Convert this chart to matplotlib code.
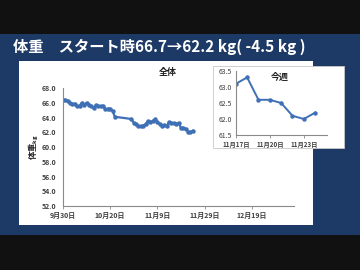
import matplotlib
matplotlib.use("Agg")
import matplotlib.pyplot as plt
import matplotlib.dates as mdates
from matplotlib.patches import Rectangle
from matplotlib.ticker import FuncFormatter, MultipleLocator
import datetime as dt

plt.rcParams['font.family'] = ['Noto Sans CJK JP', 'DejaVu Sans']

# ---- data ----
start = dt.date(2014, 9, 30)
day_offsets = [0, 1, 2, 3, 4, 5, 6, 7, 8, 9, 10, 11, 12, 13, 14, 15, 16, 17, 18, 19, 20, 21, 22,
               29, 30, 31, 32, 33, 34, 35, 36, 37, 38, 39, 40, 41, 42, 43, 44, 45, 46, 47,
               48, 49, 50, 51, 52, 53, 54, 55]
weights = [66.4, 66.4, 66.3, 66.0, 65.8, 65.9, 65.5, 65.6, 66.0, 65.7, 66.0, 65.7, 65.5, 65.3,
           65.7, 65.6, 65.5, 65.6, 65.1, 65.2, 65.2, 64.9, 64.1,
           63.8, 63.3, 63.1, 62.9, 62.8, 62.9, 63.1, 63.5, 63.4, 63.5, 63.8, 63.4, 63.1, 62.9,
           63.0, 62.9, 63.4, 63.3, 63.2,
           63.1, 63.3, 62.6, 62.6, 62.5, 62.1, 62.0, 62.2]
week_offsets = [48, 49, 50, 51, 52, 53, 54, 55]
week_weights = [63.1, 63.3, 62.6, 62.6, 62.5, 62.1, 62.0, 62.2]

title_text = "体重　スタート時66.7→62.2 kg( -4.5 kg )"
main_title = "全体"
week_title = "今週"

dates = [start + dt.timedelta(days=d) for d in day_offsets]
week_dates = [start + dt.timedelta(days=d) for d in week_offsets]

line_color = "#3f70b5"
tick_color = "#404040"
navy = "#1d3966"

fig = plt.figure(figsize=(3.6, 2.7), dpi=100)
fig.patch.set_facecolor("#111111")

# navy band
fig.patches.append(Rectangle((0, 0.1296), 1, 0.7444, transform=fig.transFigure,
                             facecolor=navy, edgecolor="none", zorder=-3))
# main white panel
fig.patches.append(Rectangle((0.0528, 0.1667), 0.816, 0.607, transform=fig.transFigure,
                             facecolor="white", edgecolor="none", zorder=-2))

fig.text(0.036, 0.826, title_text, color="white", fontsize=11, fontweight="bold",
         ha="left", va="center")

def date_fmt(x, pos):
    d = mdates.num2date(x)
    return f"{d.month}月{d.day}日"

# ---- main axes ----
ax = fig.add_axes([0.175, 0.237, 0.642, 0.437])
ax.set_zorder(1)
ax.set_facecolor("none")
ax.plot(dates, weights, color=line_color, lw=1.6, marker="o", ms=2.2, mec=line_color,
        mfc=line_color, solid_joinstyle="round")
ax.set_ylim(52, 68)
ax.set_xlim(mdates.date2num(start), mdates.date2num(start + dt.timedelta(days=98)))
ax.yaxis.set_major_locator(MultipleLocator(2))
ax.yaxis.set_major_formatter(FuncFormatter(lambda v, p: f"{v:.1f}"))
ax.set_xticks([mdates.date2num(start + dt.timedelta(days=20 * i)) for i in range(5)])
ax.xaxis.set_major_formatter(FuncFormatter(date_fmt))
for s in ["top", "right"]:
    ax.spines[s].set_visible(False)
for s in ["left", "bottom"]:
    ax.spines[s].set_color("#8a8a8a")
    ax.spines[s].set_linewidth(0.8)
ax.tick_params(axis="y", length=0, labelsize=5, labelcolor=tick_color, pad=5)
ax.tick_params(axis="x", length=2, width=0.6, color="#8a8a8a", labelsize=5,
               labelcolor=tick_color, pad=2)
for lab in ax.get_xticklabels() + ax.get_yticklabels():
    lab.set_fontweight("bold")
fig.text(0.465, 0.73, main_title, fontsize=6.5, fontweight="bold", color="#222222",
         ha="center", va="center")
fig.text(0.095, 0.455, "体重$_{\\mathregular{kg}}$", rotation=90, fontsize=6, fontweight="bold",
         color="#222222", ha="center", va="center")

# ---- inset panel ----
fig.patches.append(Rectangle((0.592, 0.452), 0.364, 0.304, transform=fig.transFigure,
                             facecolor="white", edgecolor="#c8c8c8", lw=0.6, zorder=2))
ax2 = fig.add_axes([0.655, 0.5, 0.252, 0.237])
ax2.set_zorder(3)
ax2.set_facecolor("none")
ax2.plot(week_dates, week_weights, color=line_color, lw=1.4, marker="o", ms=2.2,
         mec=line_color, mfc=line_color)
ax2.set_ylim(61.5, 63.5)
ax2.set_xlim(mdates.date2num(week_dates[0]), mdates.date2num(week_dates[0] + dt.timedelta(days=8.1)))
ax2.yaxis.set_major_locator(MultipleLocator(0.5))
ax2.yaxis.set_major_formatter(FuncFormatter(lambda v, p: f"{v:.1f}"))
ax2.set_xticks([mdates.date2num(week_dates[0] + dt.timedelta(days=3 * i)) for i in range(3)])
ax2.xaxis.set_major_formatter(FuncFormatter(date_fmt))
for s in ["top", "right"]:
    ax2.spines[s].set_visible(False)
for s in ["left", "bottom"]:
    ax2.spines[s].set_color("#8a8a8a")
    ax2.spines[s].set_linewidth(0.8)
ax2.tick_params(axis="y", length=0, labelsize=5, labelcolor=tick_color, pad=3)
ax2.tick_params(axis="x", length=2, width=0.6, color="#8a8a8a", labelsize=4.5,
                labelcolor=tick_color, pad=2)
for lab in ax2.get_xticklabels():
    lab.set_fontweight("bold")
fig.text(0.777, 0.712, week_title, fontsize=6.5, fontweight="bold", color="#222222",
         ha="center", va="center", zorder=5)

fig.savefig("out.png", dpi=100, facecolor=fig.get_facecolor())
